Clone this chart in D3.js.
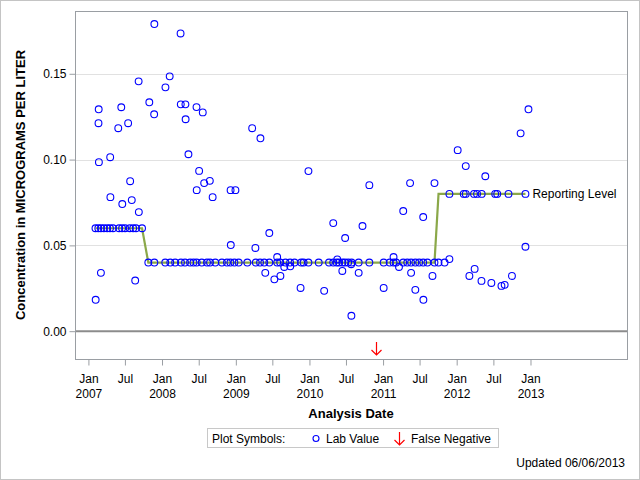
<!DOCTYPE html>
<html><head><meta charset="utf-8">
<script src="https://cdn.jsdelivr.net/npm/d3@7"></script>
<style>
body{margin:0;background:#fff;}
svg{display:block;font-family:"Liberation Sans",Arial,sans-serif;}
</style></head>
<body><svg id="c" width="640" height="480"></svg>
<script>
// ---- data ----
// lab values reported at the reporting level
const rl06Dates = ["2007-02-05","2007-02-19","2007-03-04","2007-03-19","2007-04-04","2007-04-18","2007-05-03","2007-06-02","2007-06-17","2007-07-02","2007-07-25","2007-08-11","2007-08-25","2007-09-24"];
const rl06Value = 0.06;
const rl04Dates = ["2007-10-25","2007-11-24","2008-01-17","2008-02-11","2008-03-06","2008-04-04","2008-04-24","2008-05-19","2008-06-05","2008-06-21","2008-07-16","2008-08-11","2008-08-26","2008-09-21","2008-10-24","2008-11-18","2008-12-05","2008-12-25","2009-01-15","2009-02-27","2009-04-10","2009-05-01","2009-05-22","2009-06-16","2009-07-25","2009-08-09","2009-09-04","2009-09-27","2009-10-19","2009-11-21","2009-12-03","2009-12-27","2010-02-16","2010-04-08","2010-04-29","2010-05-16","2010-05-28","2010-06-13","2010-06-26","2010-07-12","2010-07-29","2010-09-02","2010-10-25","2011-01-04","2011-02-03","2011-02-22","2011-03-07","2011-04-11","2011-05-01","2011-05-20","2011-06-10","2011-06-29","2011-07-19","2011-08-09","2011-09-13","2011-10-03","2011-11-02"];
const rl04Value = 0.04;
const rl08Dates = ["2011-11-26","2012-02-05","2012-02-15","2012-03-27","2012-04-11","2012-05-04","2012-07-10","2012-07-20","2012-09-14","2012-12-07"];
const rl08Value = 0.08;
// other lab values
const labDates = ["2007-11-24","2007-09-07","2008-02-08","2008-01-18","2007-02-21","2007-06-13","2007-10-30","2007-02-20","2007-05-29","2007-07-17","2007-11-23","2007-02-22","2007-04-19","2007-07-27","2007-04-20","2007-06-18","2007-08-04","2007-09-08","2007-03-04","2007-08-21","2007-02-06",
 "2008-04-02","2008-04-03","2008-04-26","2008-04-27","2008-06-20","2008-07-21","2008-05-11","2009-03-23","2009-05-03","2008-07-03","2008-06-21","2008-07-28","2008-08-25","2008-09-08","2008-12-06","2008-12-30","2008-12-07","2009-04-08","2009-05-27",
 "2009-07-25","2009-07-11","2009-08-10","2009-08-29","2009-09-28","2009-11-18","2010-03-15","2009-12-27","2009-06-16","2010-04-29","2010-06-27","2010-05-19","2010-06-13","2010-07-27","2010-07-28","2010-09-02","2010-10-25","2010-09-21",
 "2011-05-15","2011-09-13","2011-04-11","2011-07-19","2011-02-22","2011-03-21","2011-05-20","2011-09-03","2011-01-04","2011-06-10","2011-07-20","2011-11-26",
 "2012-12-22","2012-11-13","2012-01-06","2012-02-15","2012-05-22","2012-12-07","2012-03-04","2012-03-30","2012-05-03","2012-06-21","2012-08-10","2012-08-26","2012-10-01"];
const labValues = [0.179,0.1456,0.1485,0.1421,0.1293,0.1305,0.1334,0.1212,0.1183,0.1212,0.1264,0.0985,0.1014,0.0874,0.0781,0.0741,0.0764,0.0694,0.034,0.0295,0.0183,
 0.1735,0.1322,0.1322,0.1235,0.1306,0.1275,0.1031,0.1183,0.1124,0.0934,0.0822,0.0863,0.0876,0.0781,0.0822,0.0822,0.0502,0.0485,0.034,
 0.0432,0.0302,0.0322,0.0374,0.0378,0.0252,0.0235,0.0933,0.0572,0.063,0.0543,0.0418,0.0351,0.039,0.009,0.034,0.0851,0.0613,
 0.0863,0.0863,0.07,0.0665,0.0432,0.0374,0.034,0.0322,0.0252,0.0241,0.0183,0.042,
 0.1293,0.1153,0.1055,0.0962,0.0903,0.0492,0.0322,0.0363,0.0293,0.0281,0.0264,0.027,0.0322];
// reporting level line
const rlDates = ["2007-02-05","2007-09-24","2007-10-25","2011-09-13","2011-10-03","2012-12-07"];
const rlValues = [0.06,0.06,0.04,0.04,0.08,0.08];
// false negatives
const fnDates = ["2010-11-28"];
// axes
const xDomain = ["2006-10-29","2014-04-27"];
const yDomain = [-0.0165, 0.1863];
const yTicks = [0, 0.05, 0.10, 0.15];
const xTickStart = "2007-01-01", xTickEnd = "2013-01-01";

// ---- drawing ----
const parse = d3.timeParse("%Y-%m-%d");
const svg = d3.select("#c");
const L = 75.5, R = 627.5, T = 11.5, B = 359.5;
const x = d3.scaleTime().domain(xDomain.map(parse)).range([L, R]);
const y = d3.scaleLinear().domain(yDomain).range([B, T]);

svg.append("rect").attr("x",0.5).attr("y",0.5).attr("width",639).attr("height",479)
  .attr("fill","#fff").attr("stroke","#c4c4c4");

// grid
svg.append("g").selectAll("line").data(yTicks.filter(d=>d>0)).join("line")
  .attr("x1",L).attr("x2",R).attr("y1",d=>Math.round(y(d))+0.5).attr("y2",d=>Math.round(y(d))+0.5)
  .attr("stroke","#e1e1e1");
// zero reference
svg.append("line").attr("x1",L).attr("x2",R).attr("y1",y(0)).attr("y2",y(0))
  .attr("stroke","#8c8c8c").attr("stroke-width",2);

// frame
svg.append("rect").attr("x",L).attr("y",T).attr("width",R-L).attr("height",B-T)
  .attr("fill","none").attr("stroke","#9a9ea3");

// y axis
const yAxis = d3.axisLeft(y).tickValues(yTicks).tickFormat(d3.format(".2f")).tickSize(6).tickPadding(3);
const gy = svg.append("g").attr("transform",`translate(${L},0)`).call(yAxis);
gy.select(".domain").remove();
gy.selectAll(".tick line").attr("stroke","#9a9ea3");
gy.selectAll(".tick text").attr("fill","#000").style("font-size","12px").style("font-family","Liberation Sans, Arial, sans-serif");

// x axis
const xTicks = d3.timeMonth.every(6).range(parse(xTickStart), d3.timeDay.offset(parse(xTickEnd),1));
const xAxis = d3.axisBottom(x).tickValues(xTicks).tickSize(6).tickFormat("");
const gx = svg.append("g").attr("transform",`translate(0,${B})`).call(xAxis);
gx.select(".domain").remove();
gx.selectAll(".tick line").attr("stroke","#9a9ea3");
const fmtM = d3.timeFormat("%b"), fmtY = d3.timeFormat("%Y");
gx.selectAll(".tick").each(function(d){
  const t = d3.select(this).append("text").attr("fill","#000").attr("text-anchor","middle")
    .style("font-size","12px").style("font-family","Liberation Sans, Arial, sans-serif");
  t.append("tspan").attr("x",0).attr("y",23).text(fmtM(d));
  if (d.getMonth()===0) t.append("tspan").attr("x",0).attr("y",38).text(fmtY(d));
});

// titles
svg.append("text").attr("transform","translate(25,185) rotate(-90)").attr("text-anchor","middle")
  .style("font-size","13px").style("font-weight","bold").text("Concentration in MICROGRAMS PER LITER");
svg.append("text").attr("x",351).attr("y",418).attr("text-anchor","middle")
  .style("font-size","13px").style("font-weight","bold").text("Analysis Date");

// reporting level line
const line = d3.line().x(d=>x(parse(d[0]))).y(d=>y(d[1]));
svg.append("path").datum(rlDates.map((d,i)=>[d,rlValues[i]])).attr("d",line)
  .attr("fill","none").attr("stroke","#8ba849").attr("stroke-width",2.2);
svg.append("text").attr("x",x(parse(rlDates[rlDates.length-1]))+7).attr("y",y(rlValues[rlValues.length-1])+4.5)
  .style("font-size","12px").text("Reporting Level");

// lab values
const pts = [];
rl06Dates.forEach(d=>pts.push([d,rl06Value]));
rl04Dates.forEach(d=>pts.push([d,rl04Value]));
rl08Dates.forEach(d=>pts.push([d,rl08Value]));
labDates.forEach((d,i)=>pts.push([d,labValues[i]]));
svg.append("g").selectAll("circle").data(pts).join("circle")
  .attr("cx",d=>x(parse(d[0]))).attr("cy",d=>y(d[1])).attr("r",3.4)
  .attr("fill","none").attr("stroke","#0000ff").attr("stroke-width",1.1);

// false negatives
function arrow(g, cx, top, h){
  g.append("path").attr("d",`M${cx},${top}V${top+h}M${cx-5},${top+h-5}L${cx},${top+h}L${cx+5},${top+h-5}`)
    .attr("fill","none").attr("stroke","#ff0000").attr("stroke-width",1.2);
}
fnDates.forEach(d=>arrow(svg, Math.round(x(parse(d)))+0.5, 342, 13));

// legend
const lg = svg.append("g");
lg.append("rect").attr("x",207.5).attr("y",428.5).attr("width",291).attr("height",19)
  .attr("fill","#fff").attr("stroke","#c8c8c8");
lg.append("text").attr("x",212).attr("y",443).style("font-size","12px").text("Plot Symbols:");
lg.append("circle").attr("cx",316).attr("cy",438.5).attr("r",3).attr("fill","none").attr("stroke","#0000ff").attr("stroke-width",1.1);
lg.append("text").attr("x",326).attr("y",443).style("font-size","12px").text("Lab Value");
arrow(lg, 399.5, 432, 13);
lg.append("text").attr("x",411).attr("y",443).style("font-size","12px").text("False Negative");

svg.append("text").attr("x",625).attr("y",467).attr("text-anchor","end").style("font-size","12px").text("Updated 06/06/2013");
</script></body></html>
